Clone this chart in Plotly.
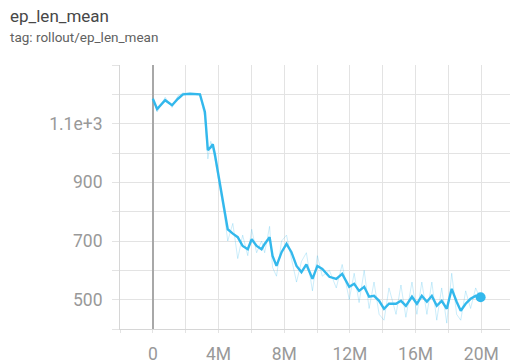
import plotly.graph_objects as go

# Training steps (millions)
steps_m = [0.0, 0.26, 0.75, 1.17, 1.53, 1.84, 2.26, 2.87, 3.17, 3.35,
           3.53, 3.65, 3.78, 4.08, 4.38, 4.56, 4.87, 5.17, 5.47, 5.78,
           6.02, 6.32, 6.62, 6.81, 7.11, 7.29, 7.53, 7.84, 8.14, 8.44,
           8.75, 9.05, 9.35, 9.72, 10.02, 10.32, 10.75, 11.17, 11.53, 11.96,
           12.26, 12.56, 12.87, 13.17, 13.47, 13.78, 14.08, 14.38, 14.81, 15.11,
           15.41, 15.78, 16.08, 16.38, 16.69, 16.99, 17.29, 17.59, 17.90, 18.20,
           18.50, 18.75, 19.05, 19.35, 19.66, 19.96]

smoothed = [1185, 1150, 1180, 1163, 1185, 1200, 1202, 1200, 1140, 1010,
            1020, 1030, 995, 900, 798, 740, 725, 713, 683, 672,
            706, 683, 672, 690, 713, 649, 615, 662, 690, 662,
            615, 594, 620, 571, 615, 605, 578, 571, 588, 544,
            554, 530, 544, 510, 513, 496, 469, 486, 486, 496,
            479, 510, 486, 513, 493, 513, 479, 496, 469, 537,
            493, 462, 486, 503, 513, 508]

raw = [1190, 1140, 1190, 1155, 1195, 1205, 1200, 1198, 1120, 980,
       1040, 1010, 980, 880, 780, 700, 760, 640, 720, 650,
       740, 660, 700, 660, 750, 610, 580, 700, 720, 640,
       560, 630, 660, 530, 650, 580, 600, 540, 620, 500,
       590, 490, 600, 470, 560, 450, 430, 540, 450, 550,
       440, 560, 450, 560, 450, 560, 430, 540, 420, 590,
       450, 430, 530, 470, 540, 500]

x_tick_vals_m = [0, 4, 8, 12, 16, 20]
x_tick_text = ["0", "4M", "8M", "12M", "16M", "20M"]
y_tick_vals = [500, 700, 900, 1100]
y_tick_text = ["500", "700", "900", "1.1e+3"]

steps = [s * 1e6 for s in steps_m]
LINE = "#33b8ec"

fig = go.Figure()
fig.add_trace(go.Scatter(x=steps, y=raw, mode="lines",
                         line=dict(color="rgba(51,184,236,0.25)", width=1),
                         hoverinfo="skip", showlegend=False))
fig.add_trace(go.Scatter(x=steps, y=smoothed, mode="lines",
                         line=dict(color=LINE, width=2.4),
                         showlegend=False))
fig.add_trace(go.Scatter(x=[steps[-1]], y=[smoothed[-1]], mode="markers",
                         marker=dict(color=LINE, size=10),
                         showlegend=False))

L, R, T, B = 120, 1, 65, 35
W, H = 511, 364
pw, ph = W - L - R, H - T - B

def px(xp):
    return (xp - L) / pw

def py(yp):
    return (H - B - yp) / ph

tickfont = dict(family="Roboto, Arial, sans-serif", size=17.5, color="#999999")
grid = "#e3e3e3"

fig.update_layout(
    width=W, height=H,
    margin=dict(l=L, r=R, t=T, b=B),
    paper_bgcolor="white", plot_bgcolor="white",
    xaxis=dict(range=[-2e6, 21.75e6], tickvals=[v * 1e6 for v in x_tick_vals_m],
               ticktext=x_tick_text, showgrid=True, gridcolor=grid,
               zeroline=True, zerolinecolor="#a8a8a8", zerolinewidth=1.5,
               ticks="outside", ticklen=3, tickcolor=grid,
               minor=dict(dtick=2e6, showgrid=True, gridcolor=grid, ticks="outside",
                          ticklen=3, tickcolor=grid),
               showline=True, linecolor="#d6d6d6", tickfont=tickfont,
               ticklabelstandoff=6),
    yaxis=dict(range=[400, 1300], tickvals=y_tick_vals, ticktext=y_tick_text,
               showgrid=True, gridcolor=grid, zeroline=False,
               ticks="outside", ticklen=7, tickcolor=grid,
               minor=dict(dtick=100, showgrid=True, gridcolor=grid, ticks="outside",
                          ticklen=7, tickcolor=grid),
               showline=True, linecolor="#d6d6d6", tickfont=tickfont,
               ticklabelstandoff=6),
    annotations=[
        dict(text="ep_len_mean", xref="paper", yref="paper", x=px(8), y=py(16),
             xanchor="left", yanchor="middle", showarrow=False,
             font=dict(family="Roboto, Arial, sans-serif", size=17, color="#474747")),
        dict(text="tag: rollout/ep_len_mean", xref="paper", yref="paper", x=px(8), y=py(37),
             xanchor="left", yanchor="middle", showarrow=False,
             font=dict(family="Roboto, Arial, sans-serif", size=13.5, color="#616161")),
    ],
)

fig.write_html("out.html", config={"displayModeBar": False},
               post_script="document.body.style.margin='0';")
